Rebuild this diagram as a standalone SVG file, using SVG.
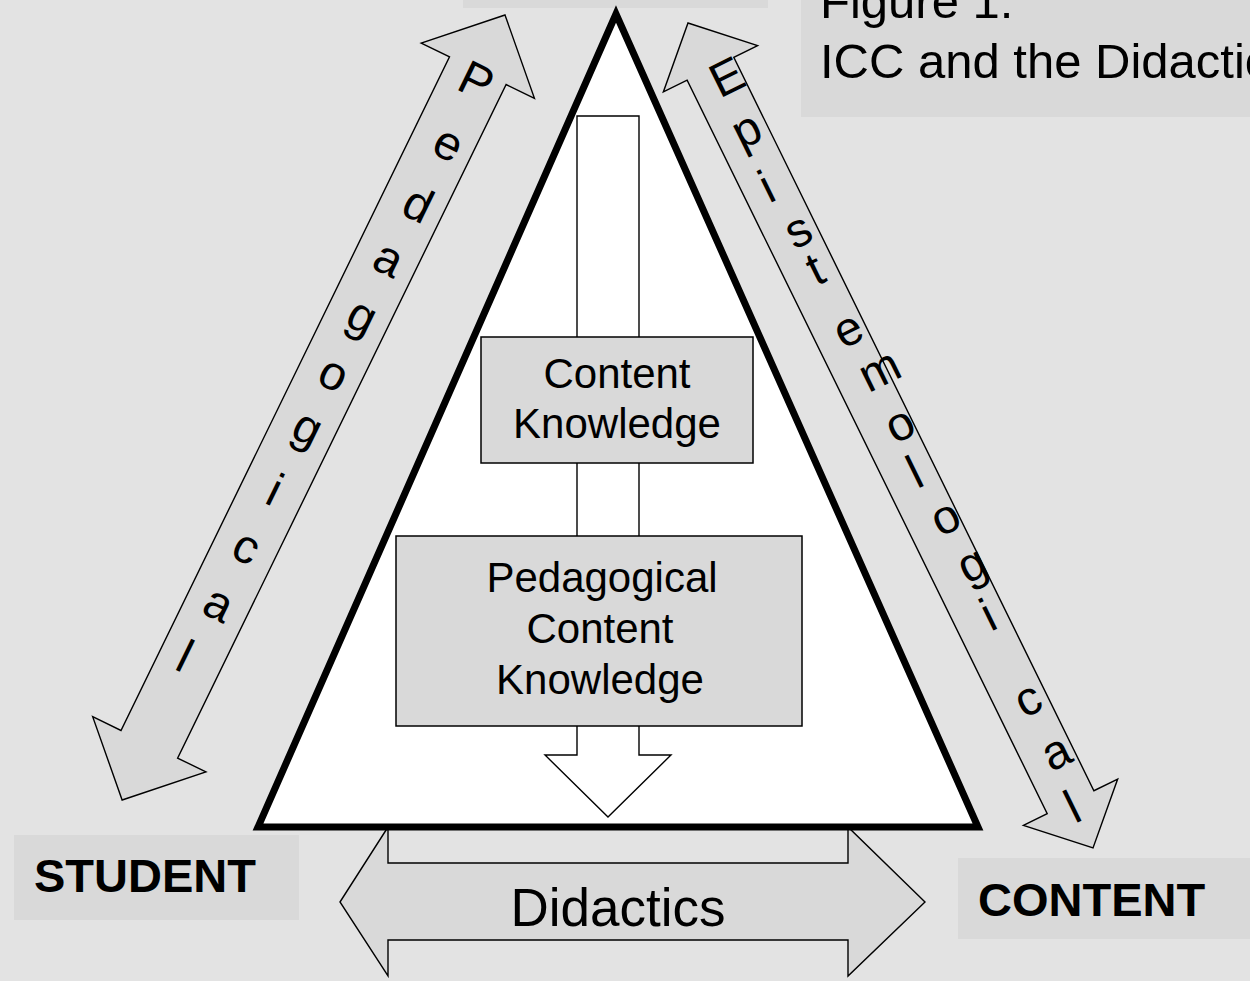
<svg xmlns="http://www.w3.org/2000/svg" width="1250" height="981" viewBox="0 0 1250 981">
  <style>
    .bg { fill: #e3e3e3; }
    .box { fill: #d9d9d9; stroke: none; }
    .nodebox { fill: #d9d9d9; stroke: #000; stroke-width: 1.5; }
    .arrow { fill: #d9d9d9; stroke: #000; stroke-width: 1.4; stroke-linejoin: miter; }
    .warrow { fill: #ffffff; stroke: #000; stroke-width: 1.4; }
    .tri { fill: #ffffff; stroke: #000; stroke-width: 7; stroke-linejoin: miter; stroke-miterlimit: 10; }
    .t { font-family: "Liberation Sans", Arial, sans-serif; fill: #000; }
    .lab { font-size: 42px; text-anchor: middle; }
    .big { font-size: 49px; }
    .bold { font-size: 47px; font-weight: bold; }
    .stack { font-size: 48px; }
  </style>
  <rect class="bg" x="0" y="0" width="1250" height="981"/>

  <g id="teacher-box">
    <rect class="box" x="463" y="-40" width="305" height="48"/>
  </g>

  <g id="caption">
    <rect class="box" x="801" y="-20" width="470" height="137"/>
    <text class="t big" x="820" y="18">Figure 1:</text>
    <text class="t big" x="820" y="78">ICC and the Didactic</text>
  </g>

  <g id="student">
    <rect class="box" x="14" y="835" width="285" height="85"/>
    <text class="t bold" x="34" y="892">STUDENT</text>
  </g>

  <g id="content">
    <rect class="box" x="958" y="858" width="300" height="81"/>
    <text class="t bold" x="978" y="916">CONTENT</text>
  </g>

  <g id="connectors">
    <g id="didactics-arrow">
      <path class="arrow" d="M340,902 L388,827 L388,863 L848,863 L848,827 L925,902 L848,976 L848,940 L388,940 L388,976 Z"/>
      <text class="t" x="618" y="926" font-size="53" text-anchor="middle">Didactics</text>
    </g>
    <g id="pedagogical-arrow" transform="translate(505,15) rotate(26)">
      <path class="arrow" d="M0,0 L63,62 L31.5,62 L31.5,811.4 L63,811.4 L0,873.4 L-63,811.4 L-31.5,811.4 L-31.5,62 L-63,62 Z"/>
      <text class="t stack" x="-13 -7.7 -8.3 -11 -9.7 -10 -9.7 -4 -11 -12.6 -12" y="88 156.5 224.7 286 349 413.6 473.4 544 607.4 670.7 733">Pedagogical</text>
    </g>
    <g id="epistemological-arrow" transform="translate(688,23) rotate(-26.15)">
      <path class="arrow" d="M0,0 L52.5,51 L26,51 L26,868 L52.5,868 L0,919 L-52.5,868 L-26,868 L-26,51 L-52.5,51 Z"/>
      <text class="t stack" x="-5 -8 -7 -4.6 -1 -4.7 -1.2 -0.3 0 -0.2 3 3 -5 -4.3 -6" y="82 137.5 198 250.5 293 361.5 412 469.5 519.5 573 627 680 772.5 832.5 889.5">Epistemological</text>
    </g>
  </g>

  <g id="triangle">
    <path class="tri" d="M616,14 L978,827 L258,827 Z"/>
  </g>

  <g id="flow-arrow">
    <path class="warrow" d="M577,116 L639,116 L639,755 L671,755 L608,817 L545,755 L577,755 Z"/>
  </g>

  <g id="content-knowledge">
    <rect class="nodebox" x="481" y="337" width="272" height="126"/>
    <text class="t lab" x="617" y="388">Content</text>
    <text class="t lab" x="617" y="438">Knowledge</text>
  </g>

  <g id="pedagogical-content-knowledge">
    <rect class="nodebox" x="396" y="536" width="406" height="190"/>
    <text class="t lab" x="602" y="592">Pedagogical</text>
    <text class="t lab" x="600" y="643">Content</text>
    <text class="t lab" x="600" y="694">Knowledge</text>
  </g>
</svg>
